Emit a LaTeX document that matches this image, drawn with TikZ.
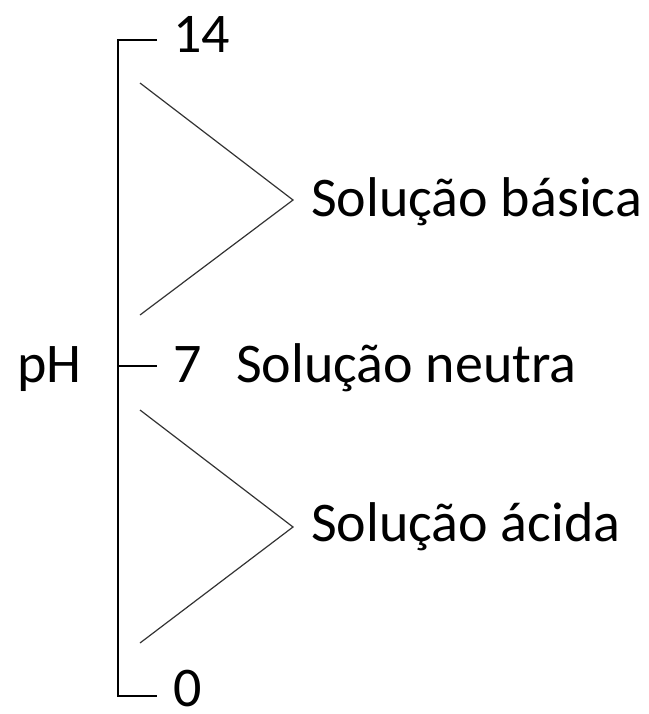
\documentclass[tikz,border=0pt]{standalone}
\usepackage{fontspec}
\setmainfont{Carlito}
\begin{document}
\begin{tikzpicture}[x=0.75pt,y=-0.75pt,
  lbl/.style={anchor=base west,inner sep=0pt,font=\fontsize{42}{48}\selectfont},
  bracket/.style={line width=1.7pt,black},
  chev/.style={line width=0.9pt,black!80}]
\useasboundingbox (0,0) rectangle (649,714);
% labels
\node[lbl] (t14) at (173,52) {14};
\node[lbl] (t7) at (173,382) {7};
\node[lbl,text depth=0pt] (t0) at (173,706) {0};
\node[lbl] (ph) at (17,382) {pH};
\node[lbl] (neu) at (236,382) {Solução neutra};
\node[lbl] (bas) at (311,216) {Solução básica};
\node[lbl] (aci) at (311,541) {Solução ácida};
% bracket
\coordinate (top) at (118,40);
\coordinate (bot) at (118,696);
\coordinate (mid) at (118,366);
\coordinate (topend) at (157,40);
\coordinate (midend) at (157,366);
\coordinate (botend) at (157,696);
\draw[bracket] (topend) -- (top) -- (bot) -- (botend);
\draw[bracket] (mid) -- (midend);
% chevrons
\coordinate (b1) at (140,83);
\coordinate (bA) at (293,200);
\coordinate (b2) at (140,315);
\coordinate (a1) at (140,410);
\coordinate (aA) at (293,527);
\coordinate (a2) at (140,643);
\draw[chev] (b1) -- (bA) -- (b2);
\draw[chev] (a1) -- (aA) -- (a2);
\end{tikzpicture}
\end{document}
